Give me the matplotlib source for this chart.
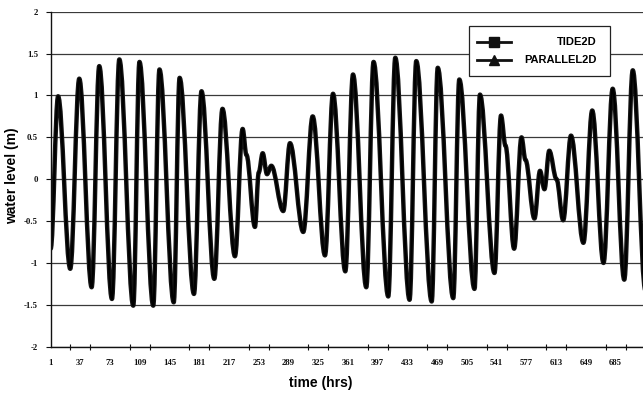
import matplotlib
matplotlib.use("Agg")
import matplotlib.pyplot as plt
from matplotlib.path import Path
from matplotlib.patches import PathPatch, Rectangle
from matplotlib.lines import Line2D

# high / low water turning points (hour, metres)
tide2d_hours = [1, 10, 24.7, 35.6, 50.6, 59.8, 75.2, 84.1, 101, 108.5,
                125.2, 132.7, 150, 157.1, 174.5, 183.6, 199.1, 209, 224.1, 233.4,
                238, 248.3, 252.9, 257.7, 262.9, 268.1, 282.6, 290.7, 306.8, 318.2,
                333.1, 342.8, 357.7, 367, 383.1, 391.9, 409.7, 418.2, 435.5, 443.6,
                462.3, 469.6, 488.4, 495.7, 514.1, 520.7, 538.3, 546.2, 551.6, 562.1,
                571, 575.8, 586.7, 593.4, 598.8, 604.6, 613.4, 621.5, 630.9, 646,
                656.6, 670.3, 681.4, 695.4, 705.7, 721.1]
tide2d_level = [-0.83, 0.99, -1.07, 1.2, -1.29, 1.35, -1.43, 1.43, -1.51, 1.4,
                -1.51, 1.31, -1.47, 1.21, -1.37, 1.05, -1.19, 0.84, -0.92, 0.6,
                0.29, -0.57, 0.08, 0.31, 0.06, 0.16, -0.38, 0.43, -0.63, 0.75,
                -0.91, 1.02, -1.1, 1.25, -1.29, 1.4, -1.4, 1.45, -1.44, 1.41,
                -1.46, 1.33, -1.42, 1.19, -1.31, 1.01, -1.12, 0.76, 0.4, -0.83,
                0.5, 0.23, -0.47, 0.1, -0.12, 0.34, 0.0, -0.49, 0.52, -0.76,
                0.82, -1.0, 1.08, -1.2, 1.3, -1.33]

# the two model runs lie on top of each other in the figure
parallel2d_hours = tide2d_hours
parallel2d_level = tide2d_level

x_label_hours = [1, 37, 73, 109, 145, 181, 217, 253, 289, 325,
                 361, 397, 433, 469, 505, 541, 577, 613, 649, 685]
y_ticks = [-2, -1.5, -1, -0.5, 0, 0.5, 1, 1.5, 2]
y_tick_labels = ["-2", "-1.5", "-1", "-0.5", "0", "0.5", "1", "1.5", "2"]


def smooth_path(hours, levels, k=0.36):
    """Curve through the turning points, flat at each high/low."""
    verts = [(hours[0], levels[0])]
    codes = [Path.MOVETO]
    for x0, y0, x1, y1 in zip(hours, levels, hours[1:], levels[1:]):
        dx = x1 - x0
        verts += [(x0 + k * dx, y0), (x1 - k * dx, y1), (x1, y1)]
        codes += [Path.CURVE4] * 3
    return Path(verts, codes)


tick_font = {"family": "Liberation Serif", "weight": "bold", "size": 6.3}
label_font = {"family": "Liberation Sans", "weight": "bold", "size": 10}

fig = plt.figure(figsize=(6.43, 3.96), dpi=100)
ax = fig.add_axes([0.0788, 0.1245, 0.9212, 0.846])

ax.add_patch(PathPatch(smooth_path(tide2d_hours, tide2d_level), fill=False,
                       lw=3.2, ec="#151515", joinstyle="round", capstyle="round"))
ax.add_patch(PathPatch(smooth_path(parallel2d_hours, parallel2d_level), fill=False,
                       lw=1.5, ec="#000000", joinstyle="round", capstyle="round"))

ax.set_xlim(1, 718.1)
ax.set_ylim(-2, 2)

ax.set_yticks(y_ticks)
ax.set_yticklabels(y_tick_labels, fontdict=tick_font)
ax.set_xticks(x_label_hours)
ax.set_xticklabels([str(h) for h in x_label_hours], fontdict=tick_font)
ax.set_xticks(range(1, 720, 24), minor=True)

ax.tick_params(axis="y", direction="out", length=3.5, width=0.8, pad=5.5, colors="#111")
ax.tick_params(axis="x", which="major", length=0, pad=9, colors="#111")
ax.tick_params(axis="x", which="minor", direction="inout", length=4, width=0.8, colors="#111")

ax.yaxis.grid(True, color="#3a3a3a", lw=0.9)
ax.set_axisbelow(True)
for side in ("top", "right"):
    ax.spines[side].set_visible(False)
for side in ("left", "bottom"):
    ax.spines[side].set_color("#111")
    ax.spines[side].set_linewidth(1.0)

fig.text(321 / 643, 1 - 383 / 396, "time (hrs)", ha="center", va="center", **label_font)
fig.text(12 / 643, 1 - 176 / 396, "water level (m)", ha="center", va="center",
         rotation=90, **label_font)

# legend box, labels right aligned as in the original
ax.add_patch(Rectangle((0.706, 0.808), 0.238, 0.149, transform=ax.transAxes,
                       fc="white", ec="#222", lw=0.9, zorder=5))
entries = [("TIDE2D", "s", 0.909), ("PARALLEL2D", "^", 0.856)]
for name, marker, yy in entries:
    ax.add_line(Line2D([0.72, 0.777], [yy, yy], transform=ax.transAxes, color="#111",
                       lw=2, zorder=6))
    ax.add_line(Line2D([0.7485], [yy], transform=ax.transAxes, color="#111",
                       marker=marker, ms=6.5, zorder=6))
    ax.text(0.922, yy, name, transform=ax.transAxes, ha="right", va="center",
            family="Liberation Sans", weight="bold", size=8, zorder=6)

fig.savefig("out.png", dpi=100)
